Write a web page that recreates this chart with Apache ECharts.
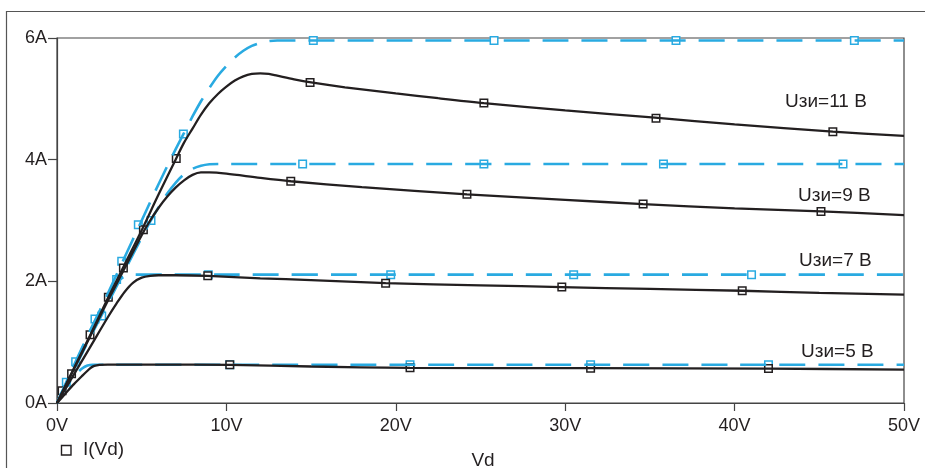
<!DOCTYPE html>
<html><head><meta charset="utf-8">
<script src="https://cdn.jsdelivr.net/npm/echarts@6/dist/echarts.min.js"></script>
<style>html,body{margin:0;padding:0;background:#fff;overflow:hidden}#c{width:925px;height:468px}</style>
</head><body><div id="c"></div>
<script>
// ---- data (Vd in V, I in A) ----
const xAxisName = 'Vd';
const legendName = 'I(Vd)';
const curveLabels = ['Uзи=11 В', 'Uзи=9 В', 'Uзи=7 В', 'Uзи=5 В'];

// ideal (blue dashed) curves
const ideal11 = [[0,0],[1,0.6],[2,1.2],[3,1.8],[4,2.4],[5,3.0],[6,3.6],[7,4.17],[7.5,4.44],[8,4.71],[8.5,4.96],[9,5.18],[9.5,5.38],[10,5.54],[10.5,5.68],[11,5.79],[11.5,5.87],[12,5.92],[12.5,5.95],[13,5.96],[20,5.96],[30,5.96],[40,5.96],[50,5.96]];
const ideal9  = [[0,0],[1,0.55],[2,1.1],[3,1.64],[4,2.18],[5,2.72],[5.5,2.98],[6,3.22],[6.5,3.44],[7,3.62],[7.5,3.76],[8,3.85],[8.5,3.9],[9,3.925],[9.5,3.93],[10,3.93],[20,3.93],[30,3.93],[40,3.93],[50,3.93]];
const ideal7  = [[0,0],[1,0.62],[2,1.22],[2.5,1.5],[3,1.76],[3.5,1.97],[4,2.08],[4.5,2.11],[5,2.11],[10,2.11],[20,2.11],[30,2.11],[40,2.11],[50,2.11]];
const ideal5  = [[0,0],[0.5,0.24],[1,0.44],[1.5,0.57],[1.8,0.615],[2.1,0.63],[3,0.63],[10,0.63],[20,0.63],[30,0.63],[40,0.63],[50,0.63]];

// real (black) curves
const real11 = [[0,0],[1,0.57],[2,1.14],[3,1.72],[4,2.28],[5,2.84],[6,3.43],[7,4.0],[7.5,4.28],[8,4.51],[8.5,4.74],[9,4.93],[9.5,5.08],[10,5.2],[10.5,5.3],[11,5.37],[11.5,5.41],[12,5.42],[12.5,5.41],[13,5.38],[14,5.32],[15,5.27],[17,5.19],[20,5.09],[22.5,5.01],[25.2,4.93],[30,4.81],[35.3,4.69],[40,4.58],[45.8,4.46],[50,4.39]];
const real9  = [[0,0],[1,0.56],[2,1.12],[3,1.68],[4,2.22],[5,2.76],[5.5,3.0],[6,3.21],[6.5,3.39],[7,3.54],[7.5,3.66],[8,3.75],[8.5,3.79],[9,3.79],[10,3.77],[12,3.7],[13.8,3.645],[18,3.55],[24.2,3.43],[30,3.34],[34.6,3.27],[40,3.2],[45.1,3.15],[50,3.09]];
const real7  = [[0,0],[1,0.47],[2,0.94],[3,1.41],[3.5,1.63],[4,1.83],[4.5,1.98],[5,2.06],[5.5,2.09],[6,2.1],[7,2.1],[8.9,2.09],[12,2.05],[15,2.02],[19.4,1.97],[25,1.935],[29.8,1.905],[35,1.875],[40.45,1.845],[45,1.81],[50,1.78]];
const real5  = [[0,0],[0.5,0.155],[1,0.31],[1.5,0.45],[1.8,0.53],[2,0.58],[2.2,0.61],[2.5,0.628],[3,0.632],[6,0.632],[10.2,0.628],[15,0.6],[20.84,0.578],[31.5,0.572],[42,0.565],[50,0.55]];

// markers
const idealMarks = [[0.55,0.34],[1.1,0.68],[2.24,1.38],[2.64,1.43],[3.52,2.03],[3.82,2.33],[4.8,2.93],[5.55,3.0],[7.46,4.42],
  [15.13,5.96],[25.8,5.96],[36.54,5.96],[47.07,5.96],
  [14.5,3.93],[25.2,3.93],[35.8,3.93],[46.4,3.93],
  [8.93,2.11],[19.7,2.11],[30.5,2.11],[41.0,2.11],
  [10.2,0.63],[20.84,0.63],[31.5,0.63],[42.0,0.63]];
const realMarks = [[0.3,0.2],[0.86,0.48],[1.95,1.12],[3.03,1.74],[3.92,2.22],[5.1,2.85],[7.04,4.02],
  [14.94,5.27],[25.2,4.93],[35.36,4.68],[45.8,4.46],
  [13.8,3.645],[24.2,3.43],[34.6,3.27],[45.1,3.15],
  [8.9,2.09],[19.4,1.97],[29.8,1.905],[40.45,1.845],
  [10.2,0.628],[20.84,0.578],[31.5,0.572],[42.0,0.566]];

// ---- style ----
const BLACK = '#231f20', BLUE = '#29aae1', AXIS = '#444';
const FONT = "'Liberation Sans', Arial, sans-serif";

const chart = echarts.init(document.getElementById('c'), null, {renderer: 'canvas'});

function lineSeries(data, color, dashed) {
  return {
    type: 'line', data: data, showSymbol: false, symbol: 'none', smooth: 0.3,
    lineStyle: dashed ? {color: color, width: 2.6, type: [26, 13], cap: 'butt'} : {color: color, width: 2.3},
    animation: false, silent: true
  };
}
function markSeries(data, color) {
  return {
    type: 'scatter', data: data, symbol: 'rect', symbolSize: 7.5,
    itemStyle: {color: '#fff', borderColor: color, borderWidth: 1.5, opacity: 1},
    animation: false, silent: true
  };
}

const labelPos = [[785, 102], [798, 196], [799, 261], [801, 352]];
const graphics = [
  {type: 'rect', shape: {x: 6.5, y: 11.5, width: 1000, height: 1000}, style: {fill: 'none', stroke: '#555', lineWidth: 1.2}, silent: true, z: 0},
  {type: 'rect', shape: {x: 61.5, y: 445.5, width: 9.5, height: 9.5}, style: {fill: '#fff', stroke: BLACK, lineWidth: 1.4}},
  {type: 'text', x: 83, y: 450, style: {text: legendName, fill: BLACK, font: '19px ' + FONT, textVerticalAlign: 'middle'}}
];
curveLabels.forEach((t, i) => graphics.push({
  type: 'text', x: labelPos[i][0], y: labelPos[i][1],
  style: {text: t, fill: BLACK, font: '19px ' + FONT, textVerticalAlign: 'middle'}
}));

chart.setOption({
  backgroundColor: '#fff',
  animation: false,
  grid: {left: 57, right: 21, top: 38, bottom: 65, show: true, borderColor: AXIS, borderWidth: 1.2,
         backgroundColor: 'transparent', containLabel: false, outerBoundsMode: 'none'},
  xAxis: {
    type: 'value', min: 0, max: 50, interval: 10,
    name: xAxisName, nameLocation: 'middle', nameGap: 48,
    nameTextStyle: {color: BLACK, fontSize: 19, fontFamily: FONT, padding: [0, 0, 0, 5]},
    axisLine: {show: true, lineStyle: {color: AXIS, width: 1.2}},
    axisTick: {show: true, length: 8, lineStyle: {color: AXIS, width: 1.2}},
    axisLabel: {formatter: '{value}V', color: BLACK, fontSize: 18, fontFamily: FONT, margin: 14},
    splitLine: {show: false}
  },
  yAxis: {
    type: 'value', min: 0, max: 6, interval: 2,
    axisLine: {show: true, lineStyle: {color: AXIS, width: 1.2}},
    axisTick: {show: true, length: 9, lineStyle: {color: AXIS, width: 1.2}},
    axisLabel: {formatter: '{value}A', color: BLACK, fontSize: 18, fontFamily: FONT, margin: 10},
    splitLine: {show: false}
  },
  graphic: graphics,
  series: [
    lineSeries(ideal11, BLUE, true), lineSeries(ideal9, BLUE, true),
    lineSeries(ideal7, BLUE, true), lineSeries(ideal5, BLUE, true),
    markSeries(idealMarks, BLUE),
    lineSeries(real11, BLACK, false), lineSeries(real9, BLACK, false),
    lineSeries(real7, BLACK, false), lineSeries(real5, BLACK, false),
    markSeries(realMarks, BLACK)
  ]
});
</script>
</body></html>
